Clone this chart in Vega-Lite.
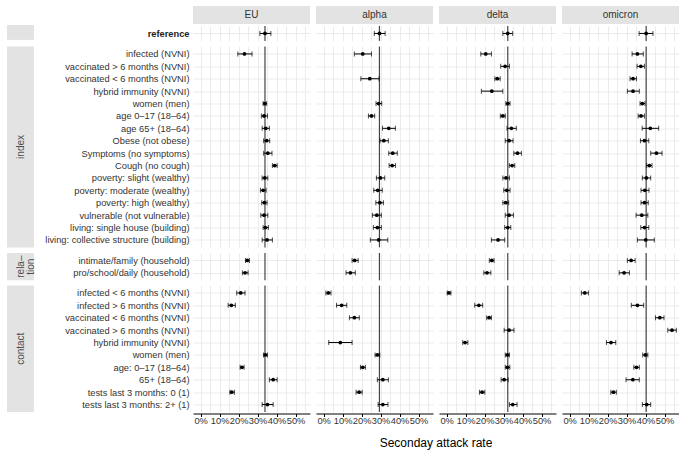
{
  "$schema": "https://vega.github.io/schema/vega-lite/v6.json",
  "padding": {"left": 7, "top": 6, "right": 0, "bottom": 2},
  "background": "white",
  "datasets": {
    "reference": [
      {"variant": "EU", "label": "reference", "est": 33.9, "lo": 31.2, "hi": 37.0},
      {"variant": "alpha", "label": "reference", "est": 29.4, "lo": 26.7, "hi": 32.4},
      {"variant": "delta", "label": "reference", "est": 32.2, "lo": 29.6, "hi": 34.8},
      {"variant": "omicron", "label": "reference", "est": 40.3, "lo": 36.6, "hi": 43.9}
    ],
    "index": [
      {"variant": "EU", "label": "infected (NVNI)", "est": 23.1, "lo": 19.6, "hi": 27.1},
      {"variant": "EU", "label": "women (men)", "est": 33.8, "lo": 32.9, "hi": 34.8},
      {"variant": "EU", "label": "age 0–17 (18–64)", "est": 33.4, "lo": 32.0, "hi": 35.2},
      {"variant": "EU", "label": "age 65+ (18–64)", "est": 34.3, "lo": 32.4, "hi": 36.2},
      {"variant": "EU", "label": "Obese (not obese)", "est": 34.8, "lo": 33.2, "hi": 36.4},
      {"variant": "EU", "label": "Symptoms (no symptoms)", "est": 35.4, "lo": 33.2, "hi": 37.6},
      {"variant": "EU", "label": "Cough (no cough)", "est": 39.0, "lo": 37.8, "hi": 40.3},
      {"variant": "EU", "label": "poverty: slight (wealthy)", "est": 33.8, "lo": 32.4, "hi": 35.4},
      {"variant": "EU", "label": "poverty: moderate (wealthy)", "est": 32.9, "lo": 31.5, "hi": 34.5},
      {"variant": "EU", "label": "poverty: high (wealthy)", "est": 33.6, "lo": 32.2, "hi": 35.0},
      {"variant": "EU", "label": "vulnerable (not vulnerable)", "est": 33.4, "lo": 31.7, "hi": 35.4},
      {"variant": "EU", "label": "living: single house (building)", "est": 34.1, "lo": 32.9, "hi": 35.7},
      {"variant": "EU", "label": "living: collective structure (building)", "est": 35.0, "lo": 32.4, "hi": 37.8},
      {"variant": "alpha", "label": "infected (NVNI)", "est": 20.6, "lo": 16.2, "hi": 25.2},
      {"variant": "alpha", "label": "vaccinated < 6 months (NVNI)", "est": 24.3, "lo": 19.6, "hi": 29.2},
      {"variant": "alpha", "label": "women (men)", "est": 29.0, "lo": 27.6, "hi": 30.6},
      {"variant": "alpha", "label": "age 0–17 (18–64)", "est": 25.2, "lo": 23.6, "hi": 26.9},
      {"variant": "alpha", "label": "age 65+ (18–64)", "est": 34.3, "lo": 31.0, "hi": 37.8},
      {"variant": "alpha", "label": "Obese (not obese)", "est": 31.7, "lo": 29.7, "hi": 34.1},
      {"variant": "alpha", "label": "Symptoms (no symptoms)", "est": 36.4, "lo": 34.3, "hi": 38.8},
      {"variant": "alpha", "label": "Cough (no cough)", "est": 36.1, "lo": 34.5, "hi": 37.8},
      {"variant": "alpha", "label": "poverty: slight (wealthy)", "est": 29.9, "lo": 27.8, "hi": 32.2},
      {"variant": "alpha", "label": "poverty: moderate (wealthy)", "est": 28.5, "lo": 26.4, "hi": 30.9},
      {"variant": "alpha", "label": "poverty: high (wealthy)", "est": 29.6, "lo": 27.5, "hi": 31.5},
      {"variant": "alpha", "label": "vulnerable (not vulnerable)", "est": 28.0, "lo": 25.7, "hi": 30.4},
      {"variant": "alpha", "label": "living: single house (building)", "est": 28.3, "lo": 26.2, "hi": 30.4},
      {"variant": "alpha", "label": "living: collective structure (building)", "est": 29.0, "lo": 24.6, "hi": 33.8},
      {"variant": "delta", "label": "infected (NVNI)", "est": 20.6, "lo": 18.0, "hi": 23.6},
      {"variant": "delta", "label": "vaccinated > 6 months (NVNI)", "est": 30.8, "lo": 28.5, "hi": 33.1},
      {"variant": "delta", "label": "vaccinated < 6 months (NVNI)", "est": 26.7, "lo": 25.4, "hi": 28.2},
      {"variant": "delta", "label": "hybrid immunity (NVNI)", "est": 23.8, "lo": 18.3, "hi": 29.6},
      {"variant": "delta", "label": "women (men)", "est": 32.2, "lo": 31.2, "hi": 33.4},
      {"variant": "delta", "label": "age 0–17 (18–64)", "est": 29.6, "lo": 28.3, "hi": 30.9},
      {"variant": "delta", "label": "age 65+ (18–64)", "est": 34.1, "lo": 31.8, "hi": 36.7},
      {"variant": "delta", "label": "Obese (not obese)", "est": 32.9, "lo": 30.9, "hi": 35.0},
      {"variant": "delta", "label": "Symptoms (no symptoms)", "est": 37.3, "lo": 35.4, "hi": 39.4},
      {"variant": "delta", "label": "Cough (no cough)", "est": 34.5, "lo": 33.0, "hi": 35.9},
      {"variant": "delta", "label": "poverty: slight (wealthy)", "est": 31.3, "lo": 29.6, "hi": 33.1},
      {"variant": "delta", "label": "poverty: moderate (wealthy)", "est": 31.7, "lo": 30.1, "hi": 33.4},
      {"variant": "delta", "label": "poverty: high (wealthy)", "est": 31.1, "lo": 29.6, "hi": 32.7},
      {"variant": "delta", "label": "vulnerable (not vulnerable)", "est": 32.9, "lo": 30.9, "hi": 35.2},
      {"variant": "delta", "label": "living: single house (building)", "est": 32.2, "lo": 30.6, "hi": 33.8},
      {"variant": "delta", "label": "living: collective structure (building)", "est": 27.1, "lo": 23.6, "hi": 30.6},
      {"variant": "omicron", "label": "infected (NVNI)", "est": 35.7, "lo": 32.9, "hi": 38.8},
      {"variant": "omicron", "label": "vaccinated > 6 months (NVNI)", "est": 37.5, "lo": 35.5, "hi": 39.4},
      {"variant": "omicron", "label": "vaccinated < 6 months (NVNI)", "est": 33.4, "lo": 31.8, "hi": 35.2},
      {"variant": "omicron", "label": "hybrid immunity (NVNI)", "est": 33.4, "lo": 30.4, "hi": 36.7},
      {"variant": "omicron", "label": "women (men)", "est": 38.3, "lo": 37.1, "hi": 39.7},
      {"variant": "omicron", "label": "age 0–17 (18–64)", "est": 37.6, "lo": 36.1, "hi": 39.4},
      {"variant": "omicron", "label": "age 65+ (18–64)", "est": 42.5, "lo": 38.2, "hi": 46.9},
      {"variant": "omicron", "label": "Obese (not obese)", "est": 39.4, "lo": 37.3, "hi": 41.7},
      {"variant": "omicron", "label": "Symptoms (no symptoms)", "est": 45.7, "lo": 42.7, "hi": 48.7},
      {"variant": "omicron", "label": "Cough (no cough)", "est": 42.0, "lo": 40.6, "hi": 43.4},
      {"variant": "omicron", "label": "poverty: slight (wealthy)", "est": 40.4, "lo": 38.3, "hi": 42.7},
      {"variant": "omicron", "label": "poverty: moderate (wealthy)", "est": 39.6, "lo": 37.6, "hi": 41.8},
      {"variant": "omicron", "label": "poverty: high (wealthy)", "est": 39.4, "lo": 37.6, "hi": 41.4},
      {"variant": "omicron", "label": "vulnerable (not vulnerable)", "est": 38.0, "lo": 35.0, "hi": 41.2},
      {"variant": "omicron", "label": "living: single house (building)", "est": 39.4, "lo": 37.5, "hi": 41.7},
      {"variant": "omicron", "label": "living: collective structure (building)", "est": 40.1, "lo": 35.7, "hi": 44.6}
    ],
    "relation": [
      {"variant": "EU", "label": "intimate/family (household)", "est": 24.6, "lo": 23.6, "hi": 25.7},
      {"variant": "EU", "label": "pro/school/daily (household)", "est": 23.4, "lo": 22.0, "hi": 25.0},
      {"variant": "alpha", "label": "intimate/family (household)", "est": 16.4, "lo": 15.0, "hi": 18.2},
      {"variant": "alpha", "label": "pro/school/daily (household)", "est": 14.1, "lo": 11.8, "hi": 16.7},
      {"variant": "delta", "label": "intimate/family (household)", "est": 23.8, "lo": 22.5, "hi": 25.0},
      {"variant": "delta", "label": "pro/school/daily (household)", "est": 21.3, "lo": 19.6, "hi": 23.3},
      {"variant": "omicron", "label": "intimate/family (household)", "est": 32.4, "lo": 30.4, "hi": 34.5},
      {"variant": "omicron", "label": "pro/school/daily (household)", "est": 28.7, "lo": 26.1, "hi": 31.5}
    ],
    "contact": [
      {"variant": "EU", "label": "infected < 6 months (NVNI)", "est": 21.1, "lo": 19.0, "hi": 23.4},
      {"variant": "EU", "label": "infected > 6 months (NVNI)", "est": 16.2, "lo": 14.5, "hi": 18.3},
      {"variant": "EU", "label": "women (men)", "est": 34.1, "lo": 33.1, "hi": 35.2},
      {"variant": "EU", "label": "age: 0–17 (18–64)", "est": 21.8, "lo": 20.8, "hi": 22.9},
      {"variant": "EU", "label": "65+ (18–64)", "est": 38.2, "lo": 36.2, "hi": 40.3},
      {"variant": "EU", "label": "tests last 3 months: 0 (1)", "est": 16.4, "lo": 15.4, "hi": 17.8},
      {"variant": "EU", "label": "tests last 3 months: 2+ (1)", "est": 35.2, "lo": 32.4, "hi": 38.2},
      {"variant": "alpha", "label": "infected < 6 months (NVNI)", "est": 2.5, "lo": 1.2, "hi": 3.9},
      {"variant": "alpha", "label": "infected > 6 months (NVNI)", "est": 9.5, "lo": 6.8, "hi": 12.2},
      {"variant": "alpha", "label": "vaccinated < 6 months (NVNI)", "est": 16.2, "lo": 13.6, "hi": 18.8},
      {"variant": "alpha", "label": "hybrid immunity (NVNI)", "est": 8.8, "lo": 2.7, "hi": 15.0},
      {"variant": "alpha", "label": "women (men)", "est": 28.3, "lo": 27.1, "hi": 29.6},
      {"variant": "alpha", "label": "age: 0–17 (18–64)", "est": 20.6, "lo": 19.4, "hi": 22.0},
      {"variant": "alpha", "label": "65+ (18–64)", "est": 31.2, "lo": 28.3, "hi": 34.1},
      {"variant": "alpha", "label": "tests last 3 months: 0 (1)", "est": 18.7, "lo": 17.1, "hi": 20.3},
      {"variant": "alpha", "label": "tests last 3 months: 2+ (1)", "est": 31.2, "lo": 28.7, "hi": 33.9},
      {"variant": "delta", "label": "infected < 6 months (NVNI)", "est": 1.2, "lo": 0.3, "hi": 2.3},
      {"variant": "delta", "label": "infected > 6 months (NVNI)", "est": 17.0, "lo": 14.8, "hi": 19.0},
      {"variant": "delta", "label": "vaccinated < 6 months (NVNI)", "est": 22.4, "lo": 21.1, "hi": 23.6},
      {"variant": "delta", "label": "vaccinated > 6 months (NVNI)", "est": 32.9, "lo": 30.3, "hi": 35.5},
      {"variant": "delta", "label": "hybrid immunity (NVNI)", "est": 9.7, "lo": 8.5, "hi": 11.2},
      {"variant": "delta", "label": "women (men)", "est": 32.0, "lo": 30.9, "hi": 33.1},
      {"variant": "delta", "label": "age: 0–17 (18–64)", "est": 32.0, "lo": 30.9, "hi": 33.3},
      {"variant": "delta", "label": "65+ (18–64)", "est": 30.3, "lo": 28.7, "hi": 32.4},
      {"variant": "delta", "label": "tests last 3 months: 0 (1)", "est": 18.7, "lo": 17.3, "hi": 20.1},
      {"variant": "delta", "label": "tests last 3 months: 2+ (1)", "est": 34.8, "lo": 33.1, "hi": 37.1},
      {"variant": "omicron", "label": "infected < 6 months (NVNI)", "est": 8.0, "lo": 6.2, "hi": 9.9},
      {"variant": "omicron", "label": "infected > 6 months (NVNI)", "est": 35.7, "lo": 32.5, "hi": 39.0},
      {"variant": "omicron", "label": "vaccinated < 6 months (NVNI)", "est": 47.5, "lo": 45.2, "hi": 49.7},
      {"variant": "omicron", "label": "vaccinated > 6 months (NVNI)", "est": 53.9, "lo": 51.7, "hi": 56.2},
      {"variant": "omicron", "label": "hybrid immunity (NVNI)", "est": 21.8, "lo": 19.4, "hi": 24.3},
      {"variant": "omicron", "label": "women (men)", "est": 39.9, "lo": 38.5, "hi": 41.2},
      {"variant": "omicron", "label": "age: 0–17 (18–64)", "est": 35.2, "lo": 33.8, "hi": 36.7},
      {"variant": "omicron", "label": "65+ (18–64)", "est": 33.3, "lo": 29.7, "hi": 36.7},
      {"variant": "omicron", "label": "tests last 3 months: 0 (1)", "est": 23.1, "lo": 21.7, "hi": 24.6},
      {"variant": "omicron", "label": "tests last 3 months: 2+ (1)", "est": 40.6, "lo": 38.3, "hi": 42.7}
    ]
  },
  "columns": 2,
  "align": "each",
  "spacing": {"row": 3.5, "column": 5},
  "concat": [
    {
      "vconcat": [
        {"data": {"values": [{"g": ""}]}, "width": 27, "height": 18, "mark": {"type": "text"}, "encoding": {"text": {"field": "g", "type": "nominal"}}},
        {"data": {"values": [{"g": ""}]}, "width": 27, "height": 14.88, "view": {"fill": "#e3e3e3", "stroke": null}, "mark": {"type": "text"}, "encoding": {"text": {"field": "g", "type": "nominal"}}}
      ],
      "spacing": 1
    },
    {
      "vconcat": [
        {
          "data": {"name": "reference"},
          "facet": {"column": {"field": "variant", "type": "nominal", "sort": ["EU", "alpha", "delta", "omicron"], "header": null}},
          "spacing": 6,
          "spec": {
            "width": 117, "height": 18,
            "view": {"fill": "#e3e3e3", "stroke": null},
            "mark": {"type": "text", "fontSize": 10, "color": "#333333"},
            "encoding": {
              "text": {"field": "variant", "type": "nominal"},
              "y": {"datum": "s", "type": "nominal", "axis": {"labels": false, "grid": false, "ticks": false, "domain": false, "minExtent": 152, "maxExtent": 152, "title": null}}
            }
          }
        },
        {
          "data": {"name": "reference"},
          "transform": [{"lookup": "variant", "from": {"data": {"name": "reference"}, "key": "variant", "fields": ["est"]}, "as": ["ref"]}],
          "facet": {"column": {"field": "variant", "type": "nominal", "sort": ["EU", "alpha", "delta", "omicron"], "header": null}},
          "spacing": 6,
          "spec": {
            "width": 117,
            "height": {"step": 12.4},
            "resolve": {"axis": {"x": "independent"}},
            "layer": [
              {"mark": {"type": "rule", "color": "#444444", "strokeWidth": 1.2},
               "encoding": {"x": {"aggregate": "mean", "field": "ref", "type": "quantitative", "title": null, "scale": {"domain": [-4, 57.6], "nice": false, "zero": false}, "axis": {"orient": "bottom", "values": [0, 5, 10, 15, 20, 25, 30, 35, 40, 45, 50, 55], "labels": false, "ticks": false, "domain": false, "grid": true, "title": null}}}},
              {"mark": {"type": "errorbar", "ticks": {"size": 5}, "thickness": 1, "color": "black"},
               "encoding": {"x": {"field": "lo", "type": "quantitative", "title": null, "axis": null}, "x2": {"field": "hi"},
                 "y": {"field": "label", "type": "nominal", "title": null, "scale": {"type": "point", "padding": 0.6}, "axis": {"grid": true, "labelPadding": 4, "minExtent": 152, "maxExtent": 152, "labelFontWeight": "bold", "labelColor": "#222222"}}}},
              {"mark": {"type": "point", "filled": true, "size": 14, "color": "black", "opacity": 1},
               "encoding": {"x": {"field": "est", "type": "quantitative", "title": null, "axis": null}, "y": {"field": "label", "type": "nominal", "title": null}}}
            ]
          }
        }
      ],
      "spacing": 1
    },
    {"data": {"values": [{"g": "index"}]}, "width": 27, "height": 200.88, "view": {"fill": "#e3e3e3", "stroke": null}, "mark": {"type": "text", "angle": 270, "fontSize": 10, "color": "#4d4d4d"}, "encoding": {"text": {"field": "g", "type": "nominal"}}},
    {
      "data": {"name": "index"},
      "transform": [{"lookup": "variant", "from": {"data": {"name": "reference"}, "key": "variant", "fields": ["est"]}, "as": ["ref"]}],
      "facet": {"column": {"field": "variant", "type": "nominal", "sort": ["EU", "alpha", "delta", "omicron"], "header": null}},
      "spacing": 6,
      "spec": {
        "width": 117,
        "height": {"step": 12.4},
        "resolve": {"axis": {"x": "independent"}},
        "layer": [
          {"mark": {"type": "rule", "color": "#444444", "strokeWidth": 1.2},
           "encoding": {"x": {"aggregate": "mean", "field": "ref", "type": "quantitative", "title": null, "scale": {"domain": [-4, 57.6], "nice": false, "zero": false}, "axis": {"orient": "bottom", "values": [0, 5, 10, 15, 20, 25, 30, 35, 40, 45, 50, 55], "labels": false, "ticks": false, "domain": false, "grid": true, "title": null}}}},
          {"mark": {"type": "errorbar", "ticks": {"size": 5}, "thickness": 1, "color": "black"},
           "encoding": {"x": {"field": "lo", "type": "quantitative", "title": null, "axis": null}, "x2": {"field": "hi"},
             "y": {"field": "label", "type": "nominal", "title": null, "scale": {"type": "point", "padding": 0.6, "domain": ["infected (NVNI)", "vaccinated > 6 months (NVNI)", "vaccinated < 6 months (NVNI)", "hybrid immunity (NVNI)", "women (men)", "age 0–17 (18–64)", "age 65+ (18–64)", "Obese (not obese)", "Symptoms (no symptoms)", "Cough (no cough)", "poverty: slight (wealthy)", "poverty: moderate (wealthy)", "poverty: high (wealthy)", "vulnerable (not vulnerable)", "living: single house (building)", "living: collective structure (building)"]}, "axis": {"grid": true, "labelPadding": 4, "minExtent": 152, "maxExtent": 152}}}},
          {"mark": {"type": "point", "filled": true, "size": 14, "color": "black", "opacity": 1},
           "encoding": {"x": {"field": "est", "type": "quantitative", "title": null, "axis": null}, "y": {"field": "label", "type": "nominal", "title": null}}}
        ]
      }
    },
    {"data": {"values": [{"g": "rela–\ntion"}]}, "width": 27, "height": 27.28, "view": {"fill": "#e3e3e3", "stroke": null}, "mark": {"type": "text", "angle": 270, "fontSize": 10, "color": "#4d4d4d", "lineBreak": "\n", "lineHeight": 10}, "encoding": {"text": {"field": "g", "type": "nominal"}}},
    {
      "data": {"name": "relation"},
      "transform": [{"lookup": "variant", "from": {"data": {"name": "reference"}, "key": "variant", "fields": ["est"]}, "as": ["ref"]}],
      "facet": {"column": {"field": "variant", "type": "nominal", "sort": ["EU", "alpha", "delta", "omicron"], "header": null}},
      "spacing": 6,
      "spec": {
        "width": 117,
        "height": {"step": 12.4},
        "resolve": {"axis": {"x": "independent"}},
        "layer": [
          {"mark": {"type": "rule", "color": "#444444", "strokeWidth": 1.2},
           "encoding": {"x": {"aggregate": "mean", "field": "ref", "type": "quantitative", "title": null, "scale": {"domain": [-4, 57.6], "nice": false, "zero": false}, "axis": {"orient": "bottom", "values": [0, 5, 10, 15, 20, 25, 30, 35, 40, 45, 50, 55], "labels": false, "ticks": false, "domain": false, "grid": true, "title": null}}}},
          {"mark": {"type": "errorbar", "ticks": {"size": 5}, "thickness": 1, "color": "black"},
           "encoding": {"x": {"field": "lo", "type": "quantitative", "title": null, "axis": null}, "x2": {"field": "hi"},
             "y": {"field": "label", "type": "nominal", "title": null, "scale": {"type": "point", "padding": 0.6, "domain": ["intimate/family (household)", "pro/school/daily (household)"]}, "axis": {"grid": true, "labelPadding": 4, "minExtent": 152, "maxExtent": 152}}}},
          {"mark": {"type": "point", "filled": true, "size": 14, "color": "black", "opacity": 1},
           "encoding": {"x": {"field": "est", "type": "quantitative", "title": null, "axis": null}, "y": {"field": "label", "type": "nominal", "title": null}}}
        ]
      }
    },
    {"data": {"values": [{"g": "contact"}]}, "width": 27, "height": 126.48, "view": {"fill": "#e3e3e3", "stroke": null}, "mark": {"type": "text", "angle": 270, "fontSize": 10, "color": "#4d4d4d"}, "encoding": {"text": {"field": "g", "type": "nominal"}}},
    {
      "data": {"name": "contact"},
      "transform": [{"lookup": "variant", "from": {"data": {"name": "reference"}, "key": "variant", "fields": ["est"]}, "as": ["ref"]}],
      "facet": {"column": {"field": "variant", "type": "nominal", "sort": ["EU", "alpha", "delta", "omicron"], "title": "Seconday attack rate", "header": {"labels": false, "titleOrient": "bottom", "titleFontSize": 12, "titleFontWeight": "normal", "titleColor": "#000000", "titlePadding": 1, "titleFont": "Liberation Sans"}}},
      "spacing": 6,
      "spec": {
        "width": 117,
        "height": {"step": 12.4},
        "resolve": {"axis": {"x": "independent"}},
        "layer": [
          {"mark": {"type": "rule", "color": "#444444", "strokeWidth": 1.2},
           "encoding": {"x": {"aggregate": "mean", "field": "ref", "type": "quantitative", "title": null, "scale": {"domain": [-4, 57.6], "nice": false, "zero": false}, "axis": {"orient": "bottom", "values": [0, 5, 10, 15, 20, 25, 30, 35, 40, 45, 50, 55], "labels": false, "ticks": false, "domain": false, "grid": true, "title": null}}}},
          {"mark": {"type": "errorbar", "ticks": {"size": 5}, "thickness": 1, "color": "black"},
           "encoding": {"x": {"field": "lo", "type": "quantitative", "title": null, "axis": null}, "x2": {"field": "hi"},
             "y": {"field": "label", "type": "nominal", "title": null, "scale": {"type": "point", "padding": 0.6, "domain": ["infected < 6 months (NVNI)", "infected > 6 months (NVNI)", "vaccinated < 6 months (NVNI)", "vaccinated > 6 months (NVNI)", "hybrid immunity (NVNI)", "women (men)", "age: 0–17 (18–64)", "65+ (18–64)", "tests last 3 months: 0 (1)", "tests last 3 months: 2+ (1)"]}, "axis": {"grid": true, "labelPadding": 4, "minExtent": 152, "maxExtent": 152}}}},
          {"mark": {"type": "point", "filled": true, "size": 14, "color": "black", "opacity": 1},
           "encoding": {"x": {"field": "est", "type": "quantitative", "title": null, "axis": {"orient": "bottom", "values": [0, 10, 20, 30, 40, 50], "labelExpr": "datum.value + '%'", "labelOverlap": false, "labelFlush": false, "labelPadding": 0, "domain": true, "domainColor": "#000000", "domainWidth": 1, "ticks": true, "tickSize": 3, "tickColor": "#000000", "grid": false, "title": null}},
             "y": {"field": "label", "type": "nominal", "title": null}}}
        ]
      }
    }
  ],
  "config": {
    "font": "Liberation Sans",
    "view": {"stroke": null},
    "axis": {"labelFont": "Liberation Sans", "labelFontSize": 9.3, "labelColor": "#333333", "gridColor": "#e6e6e6", "gridWidth": 0.8, "domain": false, "ticks": false},
    "axisX": {"labelOverlap": false},
    "text": {"font": "Liberation Sans"}
  }
}
